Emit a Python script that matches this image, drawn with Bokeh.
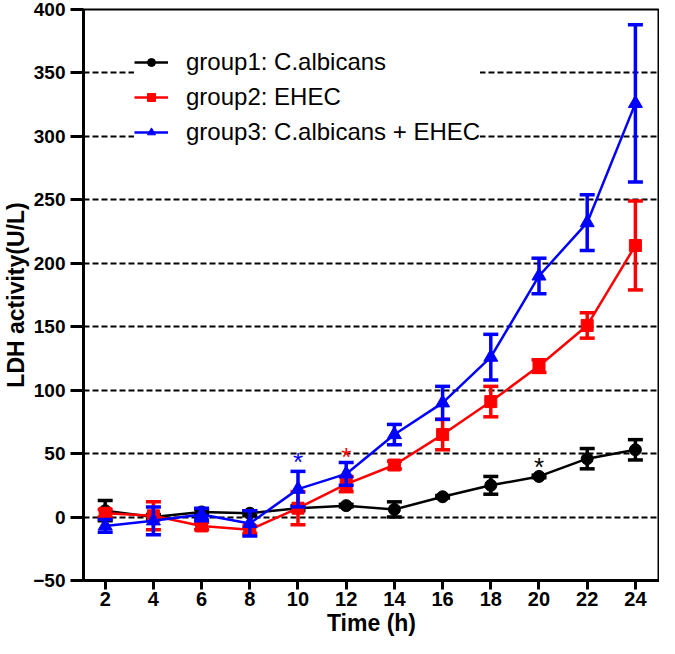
import numpy as np
from bokeh.plotting import figure
from bokeh.models import Range1d, FixedTicker, Legend, LegendItem, ColumnDataSource
from bokeh.core.properties import value
from bokeh.embed import file_html
from bokeh.resources import INLINE

# ---- data ----
time_h = [2, 4, 6, 8, 10, 12, 14, 16, 18, 20, 22, 24]
x_ticks = [2, 4, 6, 8, 10, 12, 14, 16, 18, 20, 22, 24]
y_ticks = [-50, 0, 50, 100, 150, 200, 250, 300, 350, 400]
grid_ticks = [0, 50, 100, 150, 200, 250, 300, 350, 400]

g1_label = "group1: C.albicans"
g1_mean = [5, 0, 4, 3, 7, 9, 6, 16, 25, 32, 46, 53]
g1_err = [8, 2, 2, 2, 2, 1, 6, 1, 7, 1, 8, 8]

g2_label = "group2: EHEC"
g2_mean = [3, 1, -7, -10, 7, 26, 41, 65, 91, 119, 151, 214]
g2_err = [3, 11, 3, 3, 13, 6, 3, 12, 12, 5, 10, 35]

g3_label = "group3: C.albicans + EHEC"
g3_mean = [-7, -3, 2, -5, 22, 34, 65, 90, 126, 190, 232, 326]
g3_err = [5, 11, 5, 10, 14, 9, 8, 13, 18, 14, 22, 62]

star_x = [10, 12, 20]
star_y = [48, 52, 44]
star_colors = ["#0000ff", "#ff0000", "#000000"]

FONT = "Liberation Sans"

p = figure(width=659, height=638, output_backend="svg", toolbar_location=None,
           x_range=Range1d(1.1, 25.0), y_range=Range1d(-50, 400),
           min_border=0, min_border_top=9, min_border_right=0,
           min_border_left=60, min_border_bottom=50)
p.background_fill_color = "white"
p.border_fill_color = "white"
p.outline_line_color = "black"
p.outline_line_width = 2
p.outline_line_alpha = 1

# grid
p.xgrid.visible = False
p.ygrid.ticker = FixedTicker(ticks=grid_ticks)
p.ygrid.grid_line_color = "black"
p.ygrid.grid_line_dash = "6 3"
p.ygrid.grid_line_width = 2

# axes
p.xaxis.ticker = FixedTicker(ticks=x_ticks)
p.yaxis.ticker = FixedTicker(ticks=y_ticks)
p.xaxis.axis_label = "Time (h)"
p.yaxis.axis_label = "LDH activity(U/L)"
for ax in (p.xaxis[0], p.yaxis[0]):
    ax.axis_label_text_font = FONT
    ax.axis_label_text_font_style = "bold"
    ax.axis_label_text_font_size = "23px"
    ax.axis_label_text_color = "black"
    ax.major_label_text_font = FONT
    ax.major_label_text_font_style = "bold"
    ax.major_label_text_color = "black"
    ax.axis_line_width = 3
    ax.axis_line_color = "black"
    ax.major_tick_line_width = 3
    ax.major_tick_line_color = "black"
    ax.major_tick_in = 0
    ax.minor_tick_in = 0
    ax.minor_tick_out = 0
p.xaxis.major_label_text_font_size = "20px"
p.yaxis.major_label_text_font_size = "19px"
p.xaxis.major_tick_out = 9
p.yaxis.major_tick_out = 13
p.xaxis.major_label_standoff = 2
p.yaxis.major_label_standoff = 5
p.xaxis.axis_label_standoff = 1
p.yaxis.axis_label_standoff = 1

items = []
groups = [
    (g1_label, g1_mean, g1_err, "#000000", "circle", 12),
    (g2_label, g2_mean, g2_err, "#ff0000", "square", 12),
    (g3_label, g3_mean, g3_err, "#0000ff", "triangle", 14),
]
for label, mean, err, color, marker, msize in groups:
    m = np.array(mean, dtype=float)
    e = np.array(err, dtype=float)
    src = ColumnDataSource(dict(x=time_h, y=m, lo=m - e, hi=m + e))
    p.segment(x0="x", y0="lo", x1="x", y1="hi", source=src, line_color=color, line_width=3.5)
    p.scatter(x="x", y="hi", source=src, marker="dash", size=15, line_color=color, line_width=3.5)
    p.scatter(x="x", y="lo", source=src, marker="dash", size=15, line_color=color, line_width=3.5)
    lr = p.line(x="x", y="y", source=src, line_color=color, line_width=2.5)
    sr = p.scatter(x="x", y="y", source=src, marker=marker, size=msize,
                   fill_color=color, line_color=color)
    items.append(LegendItem(label=label, renderers=[lr, sr]))

p.text(x=star_x, y=star_y, text=["*"] * len(star_x), text_color=star_colors,
       text_font=value(FONT), text_font_size="26px", text_align="center",
       text_baseline="middle", y_offset=6)

legend = Legend(items=items, location=(51, 434), padding=4, spacing=7, margin=0,
                glyph_width=34, glyph_height=20, label_height=20, label_standoff=18,
                label_text_font=FONT, label_text_font_size="24px", label_text_color="black",
                background_fill_color="white", background_fill_alpha=1.0,
                border_line_color=None)
p.add_layout(legend)

open("out.html", "w").write(file_html(p, INLINE))
